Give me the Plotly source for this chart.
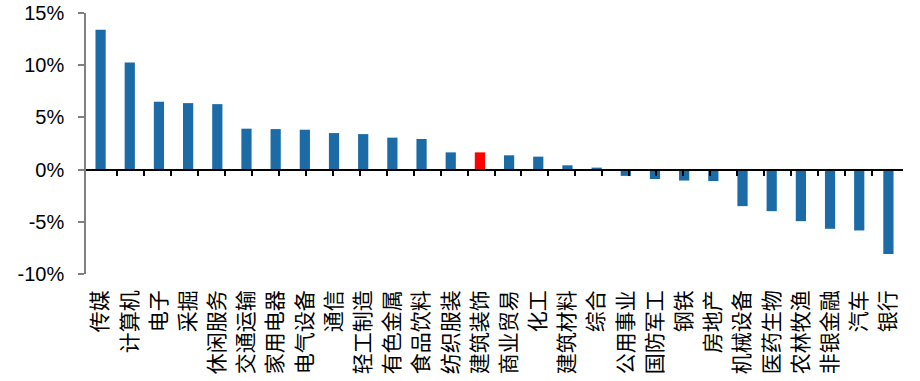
import plotly.graph_objects as go

categories = ["传媒", "计算机", "电子", "采掘", "休闲服务", "交通运输", "家用电器", "电气设备",
              "通信", "轻工制造", "有色金属", "食品饮料", "纺织服装", "建筑装饰", "商业贸易", "化工",
              "建筑材料", "综合", "公用事业", "国防军工", "钢铁", "房地产", "机械设备", "医药生物",
              "农林牧渔", "非银金融", "汽车", "银行"]
values = [13.4, 10.25, 6.5, 6.37, 6.27, 3.92, 3.88, 3.82,
          3.5, 3.4, 3.06, 2.93, 1.65, 1.65, 1.37, 1.24,
          0.41, 0.19, -0.6, -0.9, -1.05, -1.1, -3.5, -3.98,
          -4.94, -5.67, -5.83, -8.09]
highlight = "建筑装饰"
y_ticks = [-10, -5, 0, 5, 10, 15]
y_tick_labels = ["-10%", "-5%", "0%", "5%", "10%", "15%"]

blue = "#1B6BA6"
red = "#FF0000"
colors = [red if c == highlight else blue for c in categories]

fig = go.Figure()
fig.add_trace(go.Bar(x=categories, y=values, marker=dict(color=colors, line=dict(width=0)),
                     xaxis="x", yaxis="y", showlegend=False, hoverinfo="x+y"))
# invisible trace to carry the category axis drawn at zero
fig.add_trace(go.Scatter(x=categories, y=values, mode="markers", marker=dict(opacity=0),
                         xaxis="x2", yaxis="y", showlegend=False, hoverinfo="skip"))

fig.update_layout(
    width=920, height=381,
    margin=dict(l=86, r=17, t=13, b=107, autoexpand=False),
    paper_bgcolor="white", plot_bgcolor="white",
    bargap=0.65,
    xaxis=dict(type="category", categoryorder="array", categoryarray=categories,
               showline=False, ticks="", showgrid=False, zeroline=False, automargin=False,
               tickangle=-90, ticklabelstandoff=11,
               tickfont=dict(family="Noto Sans CJK SC", size=21, color="black")),
    xaxis2=dict(type="category", categoryorder="array", categoryarray=categories,
                overlaying="x", anchor="free", position=0.4, side="bottom",
                showline=True, linecolor="black", linewidth=1.5, automargin=False,
                ticks="outside", ticklen=6, tickwidth=1.5, tickcolor="black",
                tickson="boundaries", showticklabels=False, showgrid=False, zeroline=False),
    yaxis=dict(range=[-10, 15], tickmode="array", tickvals=y_ticks, ticktext=y_tick_labels,
               showline=True, linecolor="#808080", linewidth=1.5, automargin=False,
               ticks="outside", ticklen=6, tickwidth=1.5, tickcolor="#808080",
               showgrid=False, zeroline=False, ticklabelstandoff=10,
               tickfont=dict(family="Liberation Sans", size=20, color="black")),
)

fig.write_html("out.html", config={"displayModeBar": False},
               post_script="document.body.style.margin='0';document.body.style.overflow='hidden';")
